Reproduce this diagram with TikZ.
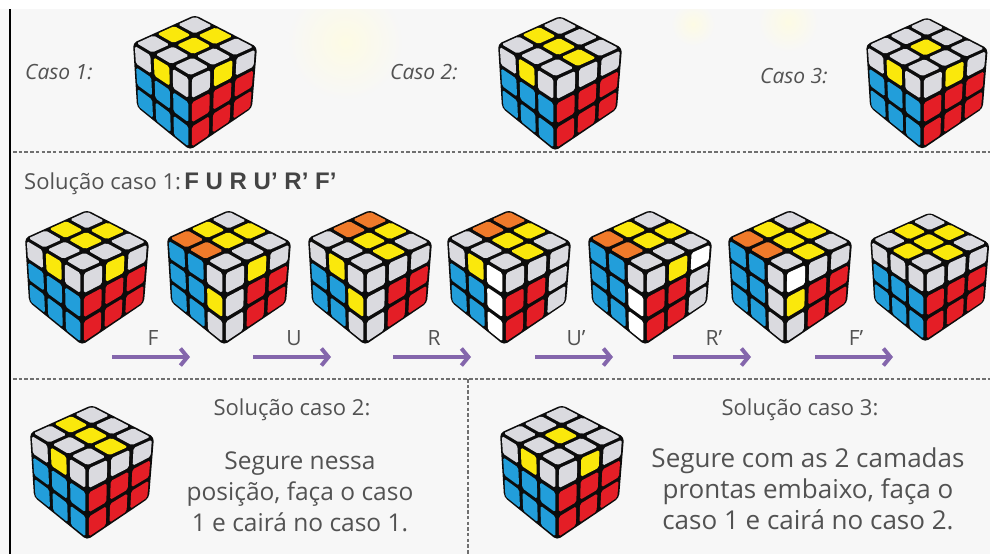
\documentclass[tikz,border=0pt]{standalone}
\usepackage{fontspec}
\setmainfont{Open Sans}
\newfontfamily\movefont{Liberation Sans}
\usetikzlibrary{calc,arrows.meta}

\definecolor{bg}{RGB}{247,247,247}
\definecolor{glow}{RGB}{253,251,228}
\definecolor{txt}{RGB}{82,82,82}
\definecolor{movedark}{RGB}{68,68,68}
\definecolor{arrowpurple}{RGB}{132,102,172}
\definecolor{dashgray}{RGB}{112,112,112}
\definecolor{cubebody}{RGB}{12,12,12}
% sticker colours
\definecolor{rkY}{RGB}{250,232,12}
\definecolor{rkG}{RGB}{218,218,223}
\definecolor{rkW}{RGB}{255,255,255}
\definecolor{rkB}{RGB}{34,158,218}
\definecolor{rkR}{RGB}{228,30,38}
\definecolor{rkO}{RGB}{240,122,42}

\def\rkgap{0.09}
\newcommand\mvsp{\hspace{0.28em}}

% one face: corners #1 (u=0,v=0), #2 (u=1,v=0), #3 (u=0,v=1), #4 (u=1,v=1);
% #5 = nine colour letters, row by row
\newcommand\rkface[5]{%
  \foreach \stk [count=\kk from 0] in {#5} {
    \pgfmathtruncatemacro\rr{floor(\kk/3)}
    \pgfmathtruncatemacro\cc{\kk-3*\rr}
    \pgfmathsetmacro\ua{(\cc+\rkgap)/3}
    \pgfmathsetmacro\ub{(\cc+1-\rkgap)/3}
    \pgfmathsetmacro\va{(\rr+\rkgap)/3}
    \pgfmathsetmacro\vb{(\rr+1-\rkgap)/3}
    \edef\stkc{rk\stk}
    \coordinate (q0) at ($(#1)!\ua!(#2)$);
    \coordinate (q1) at ($(#3)!\ua!(#4)$);
    \coordinate (q2) at ($(#1)!\ub!(#2)$);
    \coordinate (q3) at ($(#3)!\ub!(#4)$);
    \fill[fill=\stkc, rounded corners=1.8pt]
      ($(q0)!\va!(q1)$) -- ($(q2)!\va!(q3)$) -- ($(q2)!\vb!(q3)$) -- ($(q0)!\vb!(q1)$) -- cycle;
  }}

% a 3x3x3 cube: #1 front-top corner, #2 scale, #3 top, #4 left, #5 right
\newcommand\rubik[5]{%
  \begin{scope}[shift={(#1)}, scale=#2]
    \coordinate (kF)  at (0,0);
    \coordinate (kL)  at (-57,-34);
    \coordinate (kR)  at (67,-30);
    \coordinate (kT)  at (5,-62);
    \coordinate (kFB) at (0,73);
    \coordinate (kLB) at (-53,30);
    \coordinate (kRB) at (62,31);
    \fill[cubebody, rounded corners=4pt]
      (kT) -- (kR) -- (kRB) -- (kFB) -- (kLB) -- (kL) -- cycle;
  \end{scope}
  \rkface{kT}{kR}{kL}{kF}{#3}
  \rkface{kL}{kF}{kLB}{kFB}{#4}
  \rkface{kF}{kR}{kFB}{kRB}{#5}
}

\begin{document}
\begin{tikzpicture}[x=1pt,y=-1pt,
  caselabel/.style={font=\fontsize{21}{24}\selectfont\itshape, text=txt, inner sep=0pt},
  heading/.style={font=\fontsize{22}{26}\selectfont, text=txt, inner sep=0pt},
  bodytext/.style={font=\fontsize{24.5}{31}\selectfont, text=txt, align=center, inner sep=0pt},
  movelabel/.style={font=\fontsize{21}{24}\selectfont, text=txt, inner sep=0pt},
  movearrow/.style={arrowpurple, line width=4.5pt,
    -{Straight Barb[length=7pt, width=17pt, line width=4pt]}},
  divider/.style={dashgray, line width=1.6pt, dash pattern=on 3.5pt off 2.2pt}]

\useasboundingbox (0,0) rectangle (990,554);
\fill[bg] (0,0) rectangle (990,554);
\fill[white] (0,0) rectangle (990,9);

% soft yellow glows behind the top row
\begin{scope}
  \clip (0,9) rectangle (990,554);
  \shade[inner color=glow, outer color=bg] (345,42) circle (58);
  \shade[inner color=glow, outer color=bg] (693,24) circle (22);
  \shade[inner color=glow, outer color=bg] (788,22) circle (30);
\end{scope}

% frame and dividers
\draw[line width=2.4pt] (10,9) -- (10,554);
\coordinate (d1a) at (13,152);  \coordinate (d1b) at (990,152);
\coordinate (d2a) at (13,379);  \coordinate (d2b) at (990,379);
\coordinate (d3a) at (468,379); \coordinate (d3b) at (468,554);
\draw[divider] (d1a) -- (d1b);
\draw[divider] (d2a) -- (d2b);
\draw[divider] (d3a) -- (d3b);

% the three cases
\node[caselabel, anchor=west] (c1) at (25,72) {Caso 1:};
\node[caselabel, anchor=west] (c2) at (390,72) {Caso 2:};
\node[caselabel, anchor=west] (c3) at (760,76) {Caso 3:};

\rubik{190,77}{1}{G,Y,G,Y,Y,G,G,G,G}{G,Y,G,B,B,B,B,B,B}{G,Y,G,R,R,R,R,R,R}
\rubik{555,78}{1}{G,G,G,Y,Y,Y,G,G,G}{G,Y,G,B,B,B,B,B,B}{G,G,G,R,R,R,R,R,R}
\rubik{922,78}{0.98}{G,G,G,G,Y,G,G,G,G}{G,Y,G,B,B,B,B,B,B}{G,Y,G,R,R,R,R,R,R}

% solution of case 1
\node[heading, anchor=west] (s1) at (24,184)
  {Solução caso 1:\hspace{0.15em}\textcolor{movedark}{\movefont\bfseries\fontsize{24}{28}\selectfont F\mvsp U\mvsp R\mvsp U’\mvsp R’\mvsp F’}};

\rubik{82,272}{1}{G,Y,G,Y,Y,G,G,G,G}{G,Y,G,B,B,B,B,B,B}{G,Y,G,R,R,R,R,R,R}
\rubik{224,272}{1}{G,Y,G,Y,Y,G,O,O,G}{B,B,G,B,B,Y,B,B,G}{G,Y,G,G,R,R,G,R,R}
\rubik{365,272}{1}{O,Y,G,O,Y,Y,G,G,G}{G,Y,G,B,B,Y,B,B,G}{G,G,G,G,R,R,G,R,R}
\rubik{504,272}{1}{O,Y,G,O,Y,Y,G,G,G}{G,Y,W,B,B,W,B,B,W}{G,G,G,R,R,G,R,R,G}
\rubik{645,272}{1}{G,Y,G,Y,Y,G,O,O,G}{B,B,G,B,B,W,B,B,W}{G,Y,W,R,R,G,R,R,G}
\rubik{785,272}{1}{G,Y,G,Y,Y,Y,O,O,G}{B,B,G,B,B,G,B,B,G}{W,G,G,Y,R,R,G,R,R}
\rubik{925,272}{0.96}{G,Y,G,Y,Y,Y,G,Y,G}{G,G,G,B,B,B,B,B,B}{G,G,G,R,R,R,R,R,R}

% moves between the cubes
\foreach \x/\m [count=\i] in {112/F, 253/U, 393/R, 535/U’, 673/R’, 815/F’} {
  \coordinate (a\i s) at (\x,357);
  \coordinate (a\i e) at (\x+78,357);
  \node[movelabel] (m\i) at (\x+41,338) {\m};
  \draw[movearrow] (a\i s) -- (a\i e);
}

% solutions of cases 2 and 3
\rubik{87,467}{1}{G,G,G,Y,Y,Y,G,G,G}{G,Y,G,B,B,B,B,B,B}{G,G,G,R,R,R,R,R,R}
\node[heading] (s2) at (292,410) {Solução caso 2:};
\node[bodytext] (t2) at (300,492) {Segure nessa\\posição, faça o caso\\1 e cairá no caso 1.};

\rubik{557,467}{1}{G,G,G,G,Y,G,G,G,G}{G,Y,G,B,B,B,B,B,B}{G,Y,G,R,R,R,R,R,R}
\node[heading] (s3) at (800,410) {Solução caso 3:};
\node[bodytext, font=\fontsize{26}{31}\selectfont] (t3) at (808,489) {Segure com as 2 camadas\\prontas embaixo, faça o\\caso 1 e cairá no caso 2.};

\end{tikzpicture}
\end{document}
